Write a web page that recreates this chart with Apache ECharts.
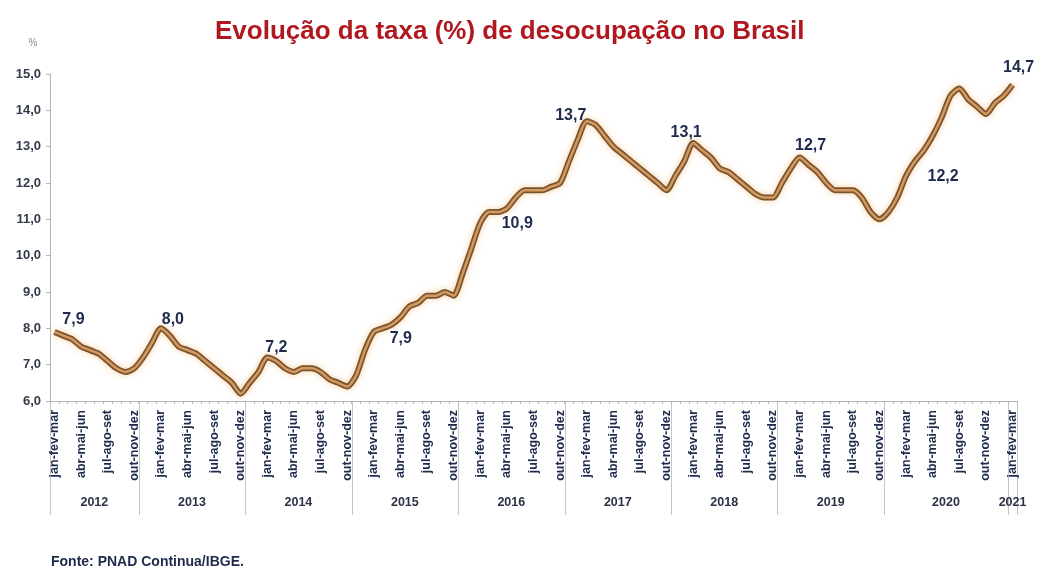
<!DOCTYPE html>
<html>
<head>
<meta charset="utf-8">
<title>Evolução da taxa de desocupação no Brasil</title>
<script src="https://cdn.jsdelivr.net/npm/echarts@6/dist/echarts.min.js"></script>
<style>
  html, body { margin: 0; padding: 0; background: #ffffff; }
  #chart { width: 1042px; height: 574px; }
</style>
</head>
<body>
<div id="chart"></div>
<script>
// Moving-quarter labels: each category is a three-month window
const meses = ['jan', 'fev', 'mar', 'abr', 'mai', 'jun', 'jul', 'ago', 'set', 'out', 'nov', 'dez'];
const categorias = [];
for (let i = 0; i < 109; i++) {
  categorias.push(meses[i % 12] + '-' + meses[(i + 1) % 12] + '-' + meses[(i + 2) % 12]);
}

// Year groups under the axis and how many categories each one spans
const anos = ['2012', '2013', '2014', '2015', '2016', '2017', '2018', '2019', '2020', '2021'];
const anosTamanho = [10, 12, 12, 12, 12, 12, 12, 12, 14, 1];

// Unemployment rate (%), one value per moving quarter
const taxa2012 = [7.9, 7.8, 7.7, 7.5, 7.4, 7.3, 7.1, 6.9, 6.8, 6.9];
const taxa2013 = [7.2, 7.6, 8.0, 7.8, 7.5, 7.4, 7.3, 7.1, 6.9, 6.7, 6.5, 6.2];
const taxa2014 = [6.5, 6.8, 7.2, 7.1, 6.9, 6.8, 6.9, 6.9, 6.8, 6.6, 6.5, 6.4];
const taxa2015 = [6.7, 7.4, 7.9, 8.0, 8.1, 8.3, 8.6, 8.7, 8.9, 8.9, 9.0, 8.9];
const taxa2016 = [9.5, 10.2, 10.9, 11.2, 11.2, 11.3, 11.6, 11.8, 11.8, 11.8, 11.9, 12.0];
const taxa2017 = [12.6, 13.2, 13.7, 13.6, 13.3, 13.0, 12.8, 12.6, 12.4, 12.2, 12.0, 11.8];
const taxa2018 = [12.2, 12.6, 13.1, 12.9, 12.7, 12.4, 12.3, 12.1, 11.9, 11.7, 11.6, 11.6];
const taxa2019 = [12.0, 12.4, 12.7, 12.5, 12.3, 12.0, 11.8, 11.8, 11.8, 11.6, 11.2, 11.0];
const taxa2020 = [11.2, 11.6, 12.2, 12.6, 12.9, 13.3, 13.8, 14.4, 14.6, 14.3, 14.1, 13.9, 14.2, 14.4];
const taxa2021 = [14.7];
const taxa = [].concat(taxa2012, taxa2013, taxa2014, taxa2015, taxa2016,
                       taxa2017, taxa2018, taxa2019, taxa2020, taxa2021);

// Y axis range and step
const yMin = 6, yMax = 15, yStep = 1;

// Categories whose value is written next to the line
const rotulados = [0, 12, 24, 36, 48, 60, 72, 84, 96, 108];

// Label placement around each annotated point [dx, dy]
const deslocamento = {
  0: [19, -12], 12: [12, -9], 24: [9, -10], 36: [27, 7], 48: [37, 1],
  60: [-16, -6], 72: [-7, -10], 84: [11, -12], 96: [37, 1], 108: [6, -17]
};

const fmt = v => v.toFixed(1).replace('.', ',');
const FONT = '"Liberation Sans", Arial, sans-serif';
const NAVY = '#1f2b4d';

const dadosComRotulo = taxa.map((v, i) => {
  if (rotulados.indexOf(i) < 0) return v;
  return {
    value: v,
    symbol: 'circle',
    symbolSize: 2,
    itemStyle: { color: 'rgba(0,0,0,0)', borderWidth: 0 },
    label: {
      show: true,
      position: 'inside',
      offset: deslocamento[i],
      formatter: p => fmt(p.value),
      color: NAVY,
      fontFamily: FONT,
      fontWeight: 'bold',
      fontSize: 16,
      align: 'center',
      verticalAlign: 'middle'
    }
  };
});

const chart = echarts.init(document.getElementById('chart'), null, { renderer: 'canvas' });

chart.setOption({
  animation: false,
  backgroundColor: '#ffffff',
  title: {
    text: 'Evolução da taxa (%) de desocupação no Brasil',
    left: 210,
    top: 14,
    textStyle: { color: '#b0171f', fontFamily: FONT, fontWeight: 'bold', fontSize: 26 }
  },
  grid: { left: 50, right: 25, top: 74, bottom: 173, containLabel: false },
  xAxis: {
    type: 'category',
    data: categorias,
    boundaryGap: true,
    axisLine: { lineStyle: { color: '#b5b5b5', width: 1 } },
    axisTick: { show: true, interval: 0, length: 3, lineStyle: { color: '#b5b5b5' } },
    axisLabel: {
      interval: i => i % 3 === 0,
      rotate: 90,
      margin: 9,
      color: NAVY,
      fontFamily: FONT,
      fontWeight: 'bold',
      fontSize: 12.5
    },
    splitLine: { show: false }
  },
  yAxis: {
    type: 'value',
    min: yMin,
    max: yMax,
    interval: yStep,
    axisLine: { show: true, lineStyle: { color: '#b5b5b5', width: 1 } },
    axisTick: { show: true, length: 4, lineStyle: { color: '#b5b5b5' } },
    axisLabel: {
      formatter: v => fmt(v),
      margin: 9,
      color: '#333a4a',
      fontFamily: FONT,
      fontWeight: 'bold',
      fontSize: 13
    },
    splitLine: { show: false }
  },
  series: [
    {
      // darker outer stroke of the line
      type: 'line',
      data: taxa,
      symbol: 'none',
      smooth: 0.25,
      z: 2,
      silent: true,
      lineStyle: {
        color: '#7a5332', width: 6,
        shadowColor: 'rgba(245,170,80,0.55)', shadowBlur: 6
      }
    },
    {
      // lighter inner stroke and value labels
      type: 'line',
      data: dadosComRotulo,
      symbol: 'none',
      showAllSymbol: true,
      smooth: 0.25,
      z: 3,
      lineStyle: { color: '#d29a5c', width: 2.5 }
    }
  ],
  graphic: []
});

// Year dividers and year names below the rotated quarter labels
function desenharAnos() {
  const px = i => chart.convertToPixel({ xAxisIndex: 0 }, i);
  const banda = px(1) - px(0);
  const yEixo = chart.convertToPixel({ yAxisIndex: 0 }, yMin);
  const limites = [px(0) - banda / 2];
  let acc = 0;
  anosTamanho.forEach(n => { acc += n; limites.push(px(acc - 1) + banda / 2); });

  const g = [];
  limites.forEach(x => {
    g.push({
      type: 'line', silent: true,
      shape: { x1: Math.round(x) + 0.5, y1: yEixo, x2: Math.round(x) + 0.5, y2: yEixo + 114 },
      style: { stroke: '#c6c6c6', lineWidth: 1 }
    });
  });
  anos.forEach((a, k) => {
    g.push({
      type: 'text', silent: true,
      x: (limites[k] + limites[k + 1]) / 2, y: yEixo + 102,
      style: {
        text: a, fill: '#2b3245', font: 'bold 12.5px ' + FONT,
        textAlign: 'center', textVerticalAlign: 'middle'
      }
    });
  });
  // unit above the y axis
  g.push({
    type: 'text', silent: true, x: 33, y: 43,
    style: { text: '%', fill: '#8a8a8a', font: '10px ' + FONT, textAlign: 'center', textVerticalAlign: 'middle' }
  });
  // source line
  g.push({
    type: 'text', silent: true, x: 51, y: 562,
    style: { text: 'Fonte: PNAD Continua/IBGE.', fill: NAVY, font: 'bold 14px ' + FONT, textAlign: 'left', textVerticalAlign: 'middle' }
  });
  chart.setOption({ graphic: g });
}
desenharAnos();
</script>
</body>
</html>
